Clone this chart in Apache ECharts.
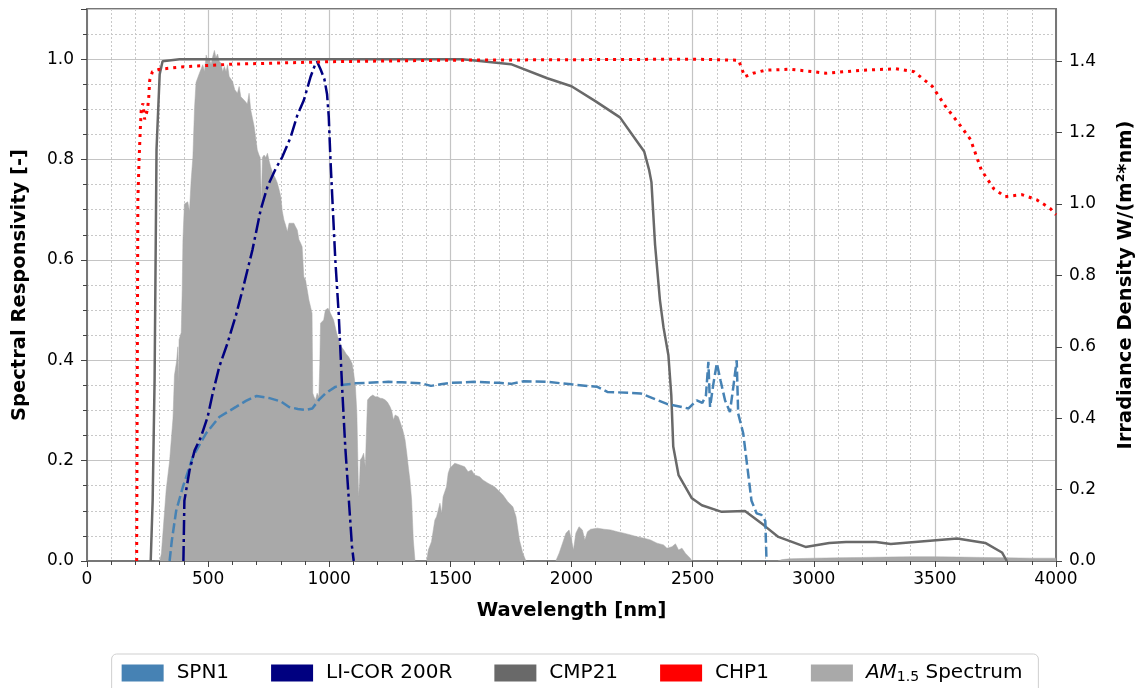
<!DOCTYPE html>
<html><head><meta charset="utf-8">
<script src="https://cdn.jsdelivr.net/npm/echarts@6/dist/echarts.min.js"></script>
<style>html,body{margin:0;padding:0;background:#fff}#c{width:1144px;height:688px}</style>
</head><body><div id="c"></div>
<script>
const seriesNames = ['SPN1', 'LI-COR 200R', 'CMP21', 'CHP1', 'AM1.5 Spectrum'];
const xTicks = [0, 500, 1000, 1500, 2000, 2500, 3000, 3500, 4000];

const spn1 = [[341,0],[350,0.04],[368,0.1],[396,0.148],[437,0.208],[491,0.254],[546,0.287],[615,0.307],[656,0.319],[700,0.329],[750,0.325],[800,0.318],[834,0.307],[870,0.303],[902,0.301],[930,0.304],[957,0.321],[984,0.334],[1025,0.347],[1060,0.351],[1108,0.354],[1200,0.356],[1244,0.357],[1300,0.356],[1381,0.354],[1420,0.349],[1460,0.352],[1500,0.355],[1600,0.357],[1700,0.355],[1750,0.353],[1800,0.358],[1900,0.357],[2000,0.352],[2107,0.347],[2148,0.337],[2285,0.334],[2394,0.313],[2483,0.304],[2500,0.312],[2517,0.32],[2540,0.315],[2555,0.33],[2565,0.397],[2572,0.307],[2586,0.354],[2600,0.394],[2615,0.36],[2634,0.32],[2654,0.297],[2668,0.347],[2682,0.4],[2688,0.294],[2709,0.254],[2743,0.12],[2764,0.095],[2784,0.092],[2800,0.08],[2805,0]];

const licor = [[398,0],[402,0.12],[423,0.18],[444,0.22],[471,0.248],[498,0.287],[519,0.334],[546,0.387],[580,0.434],[615,0.49],[642,0.54],[683,0.62],[717,0.70],[745,0.746],[779,0.782],[806,0.805],[841,0.845],[868,0.888],[895,0.918],[923,0.965],[943,0.991],[950,0.995],[964,0.98],[980,0.96],[991,0.93],[998,0.885],[1005,0.8],[1012,0.73],[1025,0.6],[1039,0.493],[1053,0.347],[1066,0.228],[1080,0.128],[1094,0.028],[1101,0]];

const cmp21 = [[263,0],[271,0.12],[279,0.36],[287,0.82],[300,0.97],[312,0.996],[382,1.0],[1550,1.0],[1750,0.99],[1900,0.962],[2000,0.946],[2100,0.916],[2200,0.884],[2250,0.85],[2300,0.816],[2320,0.78],[2330,0.755],[2345,0.63],[2365,0.52],[2380,0.465],[2400,0.41],[2412,0.33],[2420,0.228],[2442,0.171],[2497,0.125],[2538,0.111],[2620,0.098],[2716,0.0996],[2792,0.072],[2854,0.048],[2966,0.028],[3064,0.036],[3133,0.038],[3257,0.038],[3318,0.034],[3592,0.045],[3708,0.036],[3777,0.017],[3797,0]];

const chp1 = [[205,0],[207,0.3],[210,0.72],[215,0.8],[220,0.86],[224,0.9],[231,0.912],[238,0.88],[245,0.878],[250,0.9],[255,0.925],[259,0.958],[270,0.975],[300,0.98],[400,0.985],[600,0.99],[1000,0.995],[1500,0.998],[2000,0.999],[2500,1.0],[2690,0.998],[2700,0.985],[2715,0.965],[2750,0.972],[2800,0.978],[2900,0.98],[3000,0.975],[3050,0.972],[3100,0.974],[3200,0.978],[3300,0.98],[3339,0.981],[3414,0.975],[3489,0.946],[3544,0.906],[3606,0.867],[3647,0.84],[3692,0.779],[3743,0.742],[3790,0.726],[3859,0.73],[3920,0.72],[3975,0.703],[4000,0.69]];

const am15 = [[280,0],[300,0],[307,0.02],[327,0.2],[341,0.28],[355,0.4],[361,0.52],[370,0.56],[375,0.60],[378,0.5],[380,0.62],[389,0.64],[393,0.76],[396,0.9],[402,1.0],[416,1.006],[423,0.98],[430,1.067],[437,1.13],[444,1.27],[450,1.34],[464,1.366],[478,1.39],[485,1.37],[492,1.417],[500,1.40],[505,1.408],[512,1.39],[519,1.413],[526,1.43],[532,1.41],[539,1.42],[546,1.40],[553,1.394],[560,1.37],[567,1.385],[574,1.37],[580,1.39],[587,1.357],[594,1.35],[601,1.343],[610,1.32],[621,1.31],[628,1.329],[635,1.30],[642,1.305],[650,1.29],[656,1.291],[662,1.28],[669,1.31],[676,1.263],[683,1.24],[690,1.217],[697,1.212],[703,1.151],[710,1.137],[715,1.13],[720,1.0],[724,1.13],[731,1.137],[738,1.13],[745,1.142],[752,1.12],[758,1.104],[765,1.09],[772,1.086],[779,1.07],[786,1.058],[793,1.04],[800,1.02],[806,0.98],[813,0.955],[820,0.94],[827,0.922],[834,0.946],[840,0.941],[854,0.946],[861,0.936],[868,0.927],[875,0.90],[882,0.89],[888,0.88],[895,0.796],[902,0.787],[909,0.76],[916,0.731],[923,0.736],[929,0.694],[932,0.47],[937,0.46],[943,0.451],[950,0.47],[957,0.46],[961,0.55],[964,0.666],[970,0.67],[977,0.675],[984,0.703],[995,0.708],[1005,0.694],[1018,0.675],[1030,0.64],[1039,0.619],[1050,0.60],[1060,0.591],[1070,0.58],[1080,0.572],[1094,0.554],[1100,0.53],[1108,0.488],[1114,0.414],[1118,0.283],[1121,0.18],[1125,0.22],[1128,0.283],[1135,0.29],[1142,0.302],[1149,0.264],[1153,0.35],[1158,0.451],[1169,0.46],[1180,0.465],[1190,0.46],[1200,0.46],[1210,0.456],[1220,0.455],[1231,0.451],[1240,0.445],[1251,0.432],[1258,0.42],[1265,0.395],[1272,0.409],[1285,0.404],[1292,0.39],[1299,0.376],[1306,0.36],[1313,0.339],[1320,0.302],[1327,0.26],[1333,0.227],[1340,0.171],[1347,0.059],[1354,0],[1402,0],[1409,0.031],[1422,0.054],[1436,0.115],[1443,0.124],[1450,0.143],[1457,0.162],[1464,0.134],[1470,0.18],[1477,0.176],[1484,0.208],[1491,0.246],[1498,0.26],[1518,0.274],[1539,0.269],[1559,0.264],[1573,0.25],[1587,0.255],[1600,0.241],[1621,0.236],[1634,0.227],[1655,0.218],[1682,0.208],[1696,0.199],[1717,0.185],[1737,0.166],[1758,0.152],[1771,0.124],[1785,0.059],[1799,0.022],[1812,0],[1935,0],[1949,0.022],[1963,0.05],[1977,0.078],[1990,0.087],[2000,0.059],[2008,0.031],[2018,0.078],[2031,0.096],[2045,0.087],[2055,0.059],[2066,0.082],[2079,0.089],[2107,0.092],[2134,0.089],[2162,0.087],[2189,0.082],[2216,0.078],[2244,0.073],[2271,0.068],[2299,0.064],[2326,0.059],[2353,0.05],[2380,0.045],[2394,0.036],[2415,0.04],[2429,0.048],[2442,0.031],[2456,0.036],[2470,0.022],[2490,0.008],[2497,0],[2850,0],[2870,0.004],[2900,0.006],[3000,0.008],[3100,0.009],[3200,0.01],[3300,0.011],[3400,0.012],[3500,0.012],[3600,0.011],[3700,0.01],[3800,0.009],[3900,0.008],[4000,0.008]];

const colors = ['#4682b4', '#000080', '#696969', '#ff0000', '#a9a9a9'];
const FONT = 'DejaVu Sans';
const chart = echarts.init(document.getElementById('c'), null, {renderer: 'canvas'});
const gridLine = {show: true, lineStyle: {color: '#c4c4c4', width: 1.2}};
const minorLine = {show: true, lineStyle: {color: '#c8c8c8', width: 1, type: [2, 2]}};
chart.setOption({
  animation: false,
  textStyle: {fontFamily: FONT},
  grid: {left: 87, right: 83, top: 9, bottom: 127, show: true, borderColor: '#777', borderWidth: 2},
  legend: {
    data: seriesNames, left: 'center', top: 654, icon: 'rect', itemWidth: 42, itemHeight: 17, itemGap: 42,
    backgroundColor: '#fff', borderColor: '#cfcfcf', borderWidth: 1, borderRadius: 5, padding: [9, 16, 30, 10],
    itemStyle: {borderWidth: 0}, lineStyle: {width: 0},
    textStyle: {fontFamily: FONT, fontSize: 20, color: '#000', padding: [0, 0, 0, 8],
      rich: {i: {fontFamily: FONT, fontSize: 20, fontStyle: 'italic', color: '#000'},
             s: {fontFamily: FONT, fontSize: 14, color: '#000', verticalAlign: 'bottom', padding: [8, 0, 0, 0]},
             n: {fontFamily: FONT, fontSize: 20, color: '#000'}}},
    formatter: n => n.startsWith('AM') ? '{i|AM}{s|1.5}{n| Spectrum}' : n
  },
  xAxis: {
    type: 'value', min: xTicks[0], max: xTicks[xTicks.length - 1], interval: 500,
    name: 'Wavelength [nm]', nameLocation: 'middle', nameGap: 40,
    nameTextStyle: {fontFamily: FONT, fontSize: 19.5, fontWeight: 'bold', color: '#000'},
    axisLine: {lineStyle: {color: '#777', width: 2}},
    axisTick: {show: true, length: 6, lineStyle: {color: '#444', width: 1}},
    minorTick: {show: true, splitNumber: 5, length: 4, lineStyle: {color: '#444'}},
    axisLabel: {fontFamily: FONT, fontSize: 17, color: '#000', margin: 10, formatter: v => String(v)},
    splitLine: gridLine, minorSplitLine: minorLine
  },
  yAxis: [{
    type: 'value', min: 0, max: 1.1, interval: 0.2, position: 'left',
    name: 'Spectral Responsivity [-]', nameLocation: 'middle', nameGap: 57, nameRotate: 90,
    nameTextStyle: {fontFamily: FONT, fontSize: 19.5, fontWeight: 'bold', color: '#000'},
    axisLine: {show: true, lineStyle: {color: '#777', width: 2}},
    axisTick: {show: true, length: 6, lineStyle: {color: '#444'}},
    minorTick: {show: true, splitNumber: 4, length: 4, lineStyle: {color: '#444'}},
    axisLabel: {fontFamily: FONT, fontSize: 17, color: '#000', margin: 13, showMaxLabel: false,
      formatter: v => v.toFixed(1)},
    splitLine: gridLine, minorSplitLine: minorLine
  }, {
    type: 'value', min: 0, max: 1.546, interval: 0.2, position: 'right',
    name: 'Irradiance Density W/(m²*nm)', nameLocation: 'middle', nameGap: 60, nameRotate: 90,
    nameTextStyle: {fontFamily: FONT, fontSize: 19.5, fontWeight: 'bold', color: '#000'},
    axisLine: {show: true, lineStyle: {color: '#777', width: 2}},
    axisTick: {show: true, length: 6, lineStyle: {color: '#444'}},
    axisLabel: {fontFamily: FONT, fontSize: 17, color: '#000', margin: 13, showMaxLabel: false,
      formatter: v => v.toFixed(1)},
    splitLine: {show: false}
  }],
  series: [
    {name: seriesNames[4], type: 'line', yAxisIndex: 1, data: am15, symbol: 'none', z: 1,
     itemStyle: {color: colors[4]}, lineStyle: {width: 0.5, color: colors[4]}, areaStyle: {color: colors[4], opacity: 1}},
    {name: seriesNames[0], type: 'line', data: spn1, symbol: 'none', z: 3,
     itemStyle: {color: colors[0]}, lineStyle: {color: colors[0], width: 2.5, type: [10, 4]}},
    {name: seriesNames[1], type: 'line', data: licor, symbol: 'none', z: 4,
     itemStyle: {color: colors[1]}, lineStyle: {color: colors[1], width: 2.5, type: [15, 4, 3, 4]}},
    {name: seriesNames[2], type: 'line', data: cmp21, symbol: 'none', z: 2,
     itemStyle: {color: colors[2]}, lineStyle: {color: colors[2], width: 2.5}},
    {name: seriesNames[3], type: 'line', data: chp1, symbol: 'none', z: 5,
     itemStyle: {color: colors[3]}, lineStyle: {color: colors[3], width: 3, type: [3, 5]}}
  ]
});
</script></body></html>
